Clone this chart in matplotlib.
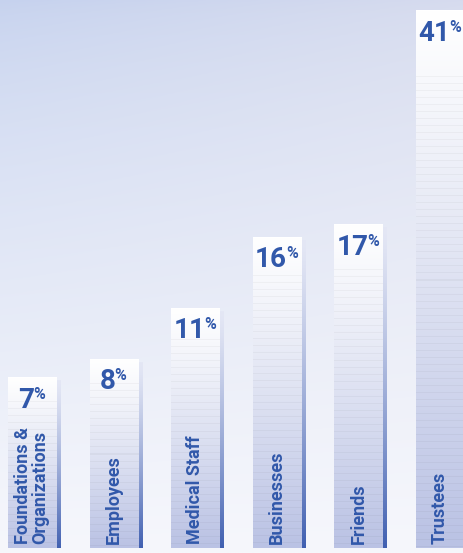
import numpy as np
import matplotlib.pyplot as plt

categories = ['Foundations &\nOrganizations', 'Employees', 'Medical Staff',
              'Businesses', 'Friends', 'Trustees']
values = [7, 8, 11, 16, 17, 41]

W, H = 464, 553
FONT = ['Roboto', 'DejaVu Sans']
BLUE = '#3158aa'

fig = plt.figure(figsize=(W / 100, H / 100), dpi=100)

# background gradient
bg = fig.add_axes([0, 0, 1, 1])
bg.axis('off')
yy, xx = np.mgrid[0:1:300j, 0:1:300j]
tl = np.array([198, 210, 238]) / 255
tr = np.array([214, 219, 238]) / 255
bot = np.array([246, 247, 252]) / 255
top = tl[None, None, :] * (1 - xx[..., None]) + tr[None, None, :] * xx[..., None]
f = np.clip(yy, 0, 1)[..., None] ** 0.7
img = top * (1 - f) + bot * f
bg.imshow(img, extent=(0, 1, 0, 1), aspect='auto', origin='upper')
bg.set_xlim(0, 1)
bg.set_ylim(0, 1)

ax = fig.add_axes([0, 5 / H, 1, 1 - 5 / H])
ax.patch.set_alpha(0)
ax.axis('off')
# the bars in the original are not drawn to a linear scale
c = 11.0
ax.set_yscale('function', functions=(lambda v: np.log1p(np.clip(v, 0, None) / c),
                                     lambda v: c * np.expm1(v)))
ymax = 42.66
ax.set_ylim(0, ymax)
ax.set_xlim(-0.392, 5.294)

x = np.arange(len(values))
bw = 0.59
bars = ax.bar(x, values, width=bw, color='none', edgecolor='none')

toax = lambda pt: ax.transAxes.inverted().transform(ax.transData.transform(pt))
axw = W
axh = H - 5
white = np.array([1.0, 1.0, 1.0])
bodybot = np.array([186, 194, 228]) / 255
shtop = np.array([228, 231, 245]) / 255
shbot = np.array([62, 94, 176]) / 255

for b in bars:
    x0, y0 = toax((b.get_x(), 0))
    x1, y1 = toax((b.get_x() + b.get_width(), b.get_height()))
    n = max(int((y1 - y0) * axh), 2)
    t = np.linspace(0, 1, n)[:, None]
    # shadow (offset right/down)
    dx, dy = 4 / axw, 3 / axh
    sh = shtop * (1 - t ** 1.3) + shbot * t ** 1.3
    ax.imshow(sh[:, None, :], extent=(x0 + dx, x1 + dx, y0 - dy, y1 - dy),
              transform=ax.transAxes, aspect='auto', origin='upper', zorder=1,
              interpolation='bilinear')
    ax.imshow(np.array([[shbot]]), extent=(x0 + dx, x1 + dx, y0 - dy, y0 - dy + 2.5 / axh),
              transform=ax.transAxes, aspect='auto', zorder=1.5)
    # body gradient with faint stripes
    body = white * (1 - t ** 1.1) + bodybot * t ** 1.1
    rows = np.arange(n)
    stripe = ((rows % 7) == 3) & (t[:, 0] > 0.12)
    body[stripe] *= 0.965
    ax.imshow(body[:, None, :], extent=(x0, x1, y0, y1), transform=ax.transAxes,
              aspect='auto', origin='upper', zorder=2, interpolation='nearest')

ax.set_ylim(0, ymax)
ax.set_xlim(-0.392, 5.294)

r = fig.canvas.get_renderer()
for i, v in enumerate(values):
    t1 = ax.annotate(str(v), (i, v), xytext=(0, -9), textcoords='offset pixels',
                     ha='left', va='top', fontsize=20, fontweight='bold',
                     color=BLUE, family=FONT, zorder=5)
    t2 = ax.annotate('%', (i, v), xytext=(0, -9), textcoords='offset pixels',
                     ha='left', va='top', fontsize=11.5, fontweight='bold',
                     color=BLUE, family=FONT, zorder=5)
    w1 = t1.get_window_extent(r).width
    w2 = t2.get_window_extent(r).width
    left = -(w1 + w2) / 2
    t1.set_position((left, -9))
    t2.set_position((left + w1 - 1, -9))

    ax.annotate(categories[i], (i, 0), xytext=(0, 4), textcoords='offset pixels',
                rotation=90, ha='center', va='bottom',
                multialignment='left', linespacing=0.95, fontsize=13,
                fontweight='bold', color=BLUE, family=FONT, zorder=5)

fig.savefig('out.png', dpi=100)
